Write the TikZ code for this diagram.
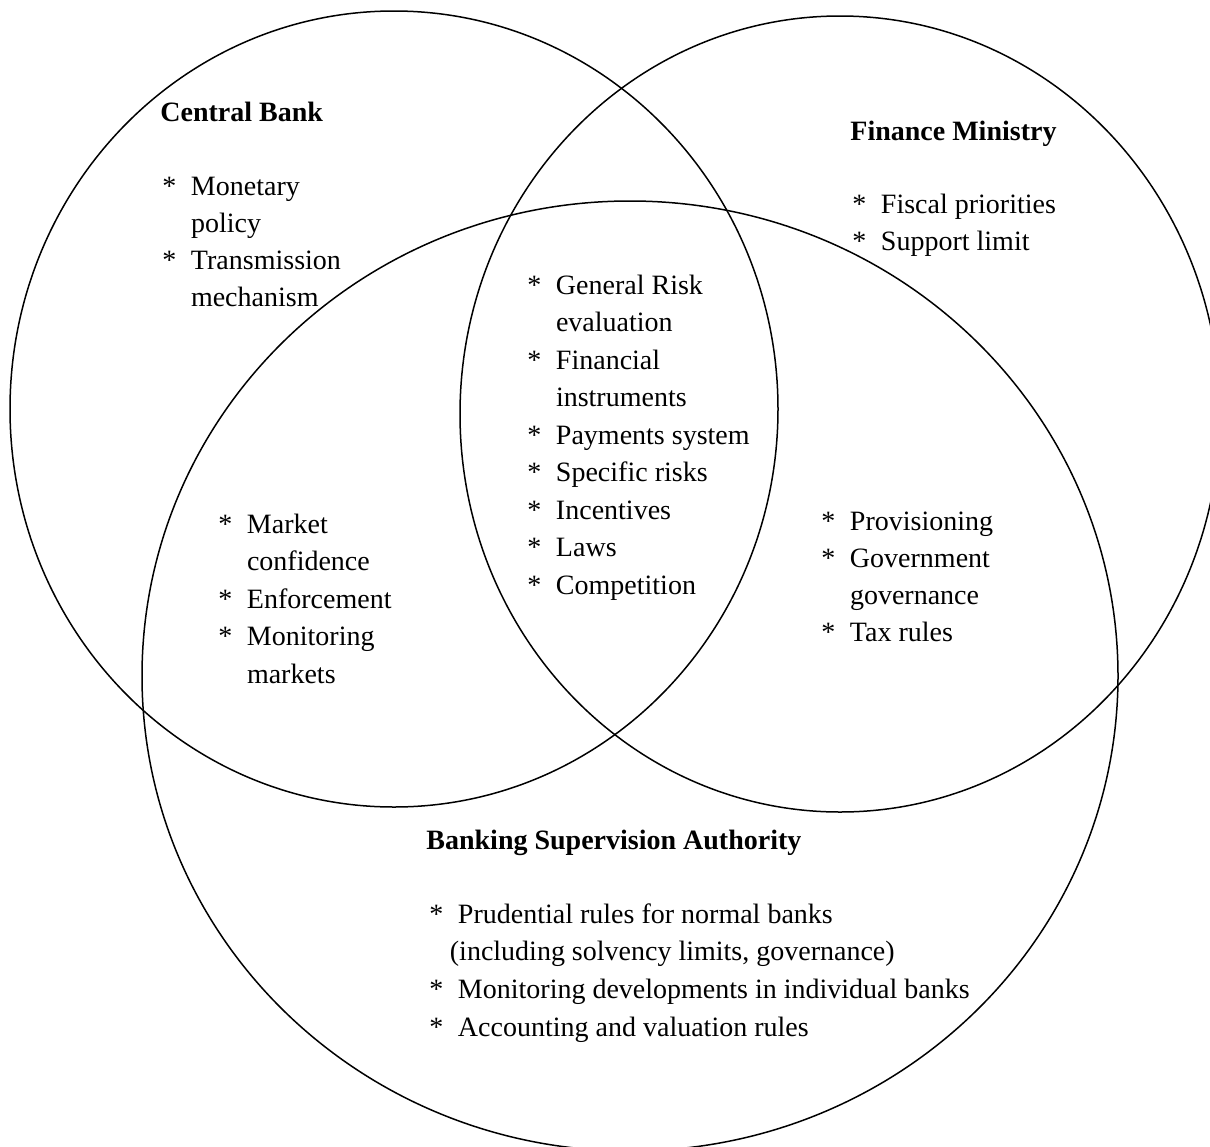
\documentclass[tikz,border=0pt]{standalone}
\usepackage{fontspec}
\setmainfont{Liberation Serif}
\newcommand{\bu}{\makebox[14.3pt][l]{*}}
\newcommand{\hb}{\hspace*{14.3pt}}
\tikzset{
  ring/.style={draw, line width=0.75pt},
  txt/.style={font=\fontsize{14}{18.75}\selectfont, inner sep=0pt, anchor=base west},
  head/.style={txt, font=\fontsize{14}{18.75}\selectfont\bfseries}
}
\begin{document}
\begin{tikzpicture}[x=0.5pt, y=-0.5pt]
\useasboundingbox (0,0) rectangle (1210,1146);
% circles
\draw[ring] (394,409) ellipse [x radius=192pt, y radius=199pt];
\draw[ring] (840,414) ellipse [x radius=190pt, y radius=199pt];
\draw[ring] (630,676) ellipse [x radius=244pt, y radius=237.5pt];
% headings
\node[head] (hcb) at (160,121) {Central Bank};
\node[head] (hfm) at (850,140) {Finance Ministry};
\node[head] (hbs) at (426,849) {Banking Supervision Authority};
% Central Bank
\foreach \t [count=\i from 0] in {\bu Monetary, \hb policy, \bu Transmission, \hb mechanism}
  \node[txt] (cb\i) at (162, 195+37.3*\i) {\t};
% Finance Ministry
\foreach \t [count=\i from 0] in {\bu Fiscal priorities, \bu Support limit}
  \node[txt] (fm\i) at (852, 213+37.5*\i) {\t};
% Centre
\foreach \t [count=\i from 0] in {\bu General Risk, \hb evaluation, \bu Financial, \hb instruments, \bu Payments system, \bu Specific risks, \bu Incentives, \bu Laws, \bu Competition}
  \node[txt] (ce\i) at (527, 294+37.5*\i) {\t};
% Left overlap
\foreach \t [count=\i from 0] in {\bu Market, \hb confidence, \bu Enforcement, \bu Monitoring, \hb markets}
  \node[txt] (lo\i) at (218, 533+37.5*\i) {\t};
% Right overlap
\foreach \t [count=\i from 0] in {\bu Provisioning, \bu Government, \hb governance, \bu Tax rules}
  \node[txt] (ro\i) at (821, 530+37.3*\i) {\t};
% Banking supervision
\foreach \t [count=\i from 0] in {\bu Prudential rules for normal banks, {\hspace*{10.25pt}(including solvency limits, governance)}, \bu Monitoring developments in individual banks, \bu Accounting and valuation rules}
  \node[txt] (bs\i) at (429, 923+37.7*\i) {\t};
\end{tikzpicture}
\end{document}
